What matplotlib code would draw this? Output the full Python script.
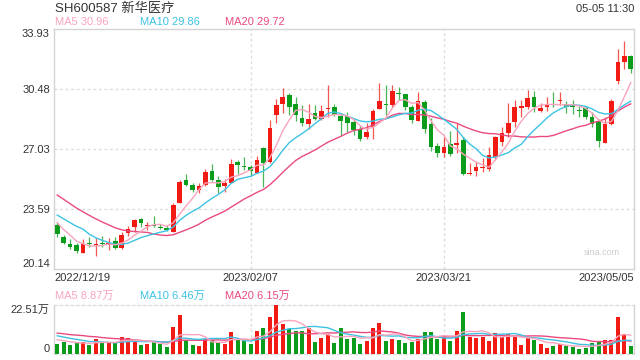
import matplotlib
matplotlib.use("Agg")
import matplotlib.pyplot as plt
import matplotlib.transforms as mtransforms
import numpy as np
import pandas as pd

plt.rcParams['font.family'] = ['Liberation Sans', 'Noto Sans CJK SC']

# daily prices, 2022/12/19 .. 2023/05/05 (90 trading days)
opens = [22.65, 21.96, 21.56, 21.53, 21.07, 21.58, 21.54, 21.58, 21.50, 21.76,
         21.36, 22.22, 22.53, 22.99, 22.63, 22.63, 22.55, 22.49, 22.28, 23.95,
         25.25, 24.95, 24.68, 24.95, 25.79, 25.25, 24.91, 25.10, 26.29, 26.04,
         25.98, 25.67, 27.09, 26.30, 29.01, 29.62, 30.14, 29.62, 28.82, 28.47,
         29.09, 28.78, 29.33, 29.43, 28.93, 28.93, 28.59, 28.17, 27.74, 28.28,
         29.35, 29.57, 29.58, 30.25, 30.20, 29.45, 28.66, 29.74, 28.47, 27.21,
         26.82, 27.32, 27.28, 27.55, 25.62, 25.79, 25.94, 25.90, 26.56, 27.44,
         27.97, 28.59, 29.39, 29.43, 30.01, 29.23, 29.47, 29.60, 29.79, 29.62,
         29.60, 29.25, 29.39, 28.86, 28.66, 27.40, 28.47, 30.92, 32.03, 32.38]
closes = [22.15, 21.61, 21.42, 21.19, 21.57, 21.55, 21.57, 21.55, 21.61, 21.36,
          22.07, 22.42, 22.95, 22.80, 22.66, 22.60, 22.52, 22.38, 23.82, 25.14,
          24.98, 24.68, 24.91, 25.71, 25.25, 24.87, 25.10, 26.17, 26.13, 26.01,
          25.79, 26.40, 26.25, 28.22, 29.55, 30.01, 29.47, 29.01, 28.51, 28.74,
          28.78, 29.20, 29.36, 29.01, 28.63, 28.51, 28.13, 27.59, 28.01, 29.20,
          29.78, 29.54, 30.35, 30.22, 29.47, 28.70, 29.78, 28.20, 27.17, 26.82,
          27.13, 26.75, 27.40, 25.60, 25.66, 25.98, 26.02, 26.67, 27.74, 27.94,
          28.51, 29.43, 29.51, 29.96, 29.47, 29.39, 29.62, 29.57, 29.82, 29.47,
          29.45, 29.22, 28.89, 28.47, 27.51, 28.47, 29.78, 32.03, 32.38, 31.61]
highs = [22.84, 22.09, 21.88, 21.61, 21.86, 21.96, 21.92, 22.03, 21.90, 21.96,
         22.26, 22.61, 23.03, 23.05, 22.86, 23.18, 22.72, 22.67, 23.91, 25.25,
         25.60, 25.10, 25.06, 25.90, 26.17, 25.48, 25.33, 26.44, 26.40, 26.56,
         26.11, 26.63, 27.17, 28.70, 29.89, 30.54, 30.27, 30.01, 29.58, 29.62,
         29.55, 29.55, 30.69, 29.62, 29.09, 29.16, 28.78, 28.36, 28.53, 29.35,
         30.81, 30.69, 30.69, 30.61, 30.22, 29.58, 30.31, 29.85, 28.82, 27.36,
         27.74, 28.05, 28.55, 27.72, 26.21, 26.29, 26.52, 27.13, 27.80, 28.32,
         29.66, 29.85, 29.85, 30.42, 30.35, 29.66, 30.04, 30.31, 30.31, 29.81,
         29.85, 29.58, 29.51, 29.16, 28.78, 28.89, 29.89, 32.76, 33.22, 32.42]
lows = [21.99, 21.56, 21.27, 21.04, 21.05, 21.42, 20.88, 21.42, 21.23, 21.30,
        21.30, 22.03, 22.28, 22.57, 22.38, 22.53, 22.42, 22.34, 22.28, 23.91,
        24.91, 24.56, 24.49, 24.91, 25.21, 24.52, 24.56, 25.06, 25.60, 25.83,
        25.48, 25.64, 24.87, 26.25, 28.55, 29.12, 28.97, 28.63, 28.36, 28.20,
        28.70, 28.70, 28.89, 28.93, 27.86, 28.01, 27.86, 27.51, 27.63, 27.63,
        29.32, 28.97, 29.47, 29.85, 29.28, 28.51, 28.64, 27.94, 26.94, 26.56,
        26.59, 26.63, 26.79, 25.56, 25.52, 25.48, 25.71, 25.79, 26.40, 27.21,
        27.71, 28.28, 28.89, 29.35, 29.16, 29.18, 29.20, 29.43, 29.58, 29.09,
        29.05, 28.86, 28.78, 28.32, 27.13, 27.36, 28.40, 30.77, 31.61, 31.38]
# volume, 万手
volumes = [4.72, 5.48, 4.26, 5.32, 5.48, 3.95, 7.00, 4.87, 5.48, 5.32,
           7.91, 7.45, 5.78, 4.26, 4.72, 5.32, 4.72, 3.35, 12.47, 17.95,
           6.24, 4.26, 3.80, 7.00, 6.39, 5.32, 4.41, 10.19, 7.00, 6.54,
           4.72, 10.65, 12.02, 17.04, 22.51, 13.84, 11.71, 10.65, 10.65, 12.02,
           5.63, 7.45, 8.97, 5.17, 12.02, 7.00, 7.45, 4.72, 6.08, 12.02,
           14.30, 6.08, 7.00, 6.54, 5.17, 5.63, 7.00, 10.19, 10.19, 7.00,
           7.91, 6.08, 10.65, 19.32, 7.91, 7.45, 7.91, 6.08, 9.73, 7.91,
           9.28, 7.91, 4.26, 7.91, 6.54, 4.72, 2.89, 3.80, 4.72, 3.80,
           3.35, 2.43, 2.89, 5.17, 5.63, 6.54, 6.54, 17.04, 9.28, 3.80]

# 19 days before the window, only used to warm up the moving averages
pre_closes = [26.6, 26.4, 26.2, 25.9, 25.7, 25.5, 25.2, 24.9, 24.7, 24.3,
              23.8, 23.6, 23.3, 23.2, 24.5, 23.6, 23.0, 22.9, 22.35]
pre_volumes = [11.0, 12.5, 10.0, 9.5, 11.8, 10.2, 12.0, 10.6, 9.8, 10.5,
               11.5, 10.2, 9.8, 10.5, 9.0, 7.5, 6.8, 7.2, 6.48]

date_idx = [0, 30, 60, 89]
date_labels = ['2022/12/19', '2023/02/07', '2023/03/21', '2023/05/05']
price_ticks = [20.14, 23.59, 27.03, 30.48, 33.93]

RED = '#f21b14'
GREEN = '#0c9c1c'
C_MA5 = '#f9a4bd'
C_MA10 = '#3cc3e3'
C_MA20 = '#ea4a80'
BORDER = '#d4d4d4'
GRID = '#dddddd'
TXT = '#333333'

n = len(closes)
x = np.arange(n)
o = np.array(opens); c = np.array(closes)
h = np.array(highs); l = np.array(lows)
up = c >= o
cols = [RED if u else GREEN for u in up]


def ma(pre, vals, k):
    s = pd.Series(pre + vals).rolling(k).mean().to_numpy()
    return s[len(pre):]


W, H = 640, 360
fig = plt.figure(figsize=(6.4, 3.6), dpi=100)
fig.patch.set_facecolor('white')

ax = fig.add_axes([54 / W, 1 - 269 / H, 580 / W, 240 / H])
axv = fig.add_axes([54 / W, 1 - 354 / H, 580 / W, 49 / H])

# candles
ax.vlines(x, l, h, colors=cols, linewidth=0.9, alpha=0.75, zorder=2)
body_lo = np.minimum(o, c)
body_h = np.maximum(np.abs(c - o), 0.06)
ax.bar(x, body_h, bottom=body_lo, width=0.72, color=cols, linewidth=0, zorder=3)

ax.plot(x, ma(pre_closes, closes, 20), color=C_MA20, lw=1.0, zorder=4)
ax.plot(x, ma(pre_closes, closes, 10), color=C_MA10, lw=1.0, zorder=4)
ax.plot(x, ma(pre_closes, closes, 5), color=C_MA5, lw=1.0, zorder=4)

ax.set_xlim(-0.5, n - 0.5)
ax.set_ylim(price_ticks[0], price_ticks[-1])
ax.set_yticks(price_ticks)
ax.set_yticklabels(['%.2f' % t for t in price_ticks])
ax.tick_params(axis='y', length=0, pad=3, labelsize=8, labelcolor=TXT)
labs = ax.get_yticklabels()
labs[0].set_va('bottom')
labs[-1].set_va('top')
ax.set_xticks([])
for t in price_ticks[1:-1]:
    ax.axhline(t, color=GRID, lw=1.0, ls=(0, (2, 2)), zorder=1)
for i in date_idx[1:3]:
    ax.axvline(i, color=GRID, lw=1.0, ls=(0, (2, 2)), zorder=1)
for sp in ax.spines.values():
    sp.set_color(BORDER)
    sp.set_linewidth(1.0)

trans = mtransforms.blended_transform_factory(ax.transData, ax.transAxes)
aligns = ['left', 'center', 'center', 'right']
for i, lab, ha in zip(date_idx, date_labels, aligns):
    xx = i - 0.5 if ha == 'left' else (i + 0.5 if ha == 'right' else i)
    ax.text(xx, -0.015, lab, transform=trans, ha=ha, va='top', fontsize=8, color=TXT)

ax.text(0.975, 0.07, 'sina.com', transform=ax.transAxes, ha='right', va='center',
        fontsize=6.5, color='#cccccc')

# volume panel
axv.bar(x, volumes, width=0.62, color=cols, linewidth=0, zorder=3)
axv.plot(x, ma(pre_volumes, volumes, 20), color=C_MA20, lw=1.0, zorder=4)
axv.plot(x, ma(pre_volumes, volumes, 10), color=C_MA10, lw=1.0, zorder=4)
axv.plot(x, ma(pre_volumes, volumes, 5), color=C_MA5, lw=1.0, zorder=4)
axv.set_xlim(-0.5, n - 0.5)
axv.set_ylim(0, max(volumes))
axv.set_yticks([0, max(volumes)])
axv.set_yticklabels(['0', '%.2f万' % max(volumes)])
axv.tick_params(axis='y', length=0, pad=3, labelsize=8, labelcolor=TXT)
vl = axv.get_yticklabels()
vl[0].set_va('bottom')
vl[1].set_va('top')
axv.set_xticks([])
for i in date_idx[1:3]:
    axv.axvline(i, color=GRID, lw=1.0, ls=(0, (2, 2)), zorder=1)
for name, sp in axv.spines.items():
    sp.set_color(BORDER if name in ('left', 'right') else GRID)
    sp.set_linewidth(1.0)
    if name in ('top', 'bottom'):
        sp.set_linestyle((0, (2, 2)))

# header texts
fig.text(55 / W, 1 - 9 / H, 'SH600587 新华医疗', fontsize=9.5, color=TXT, va='center')
fig.text(634 / W, 1 - 9 / H, '05-05 11:30', fontsize=8, color=TXT, va='center', ha='right')
fig.text(55 / W, 1 - 22 / H, 'MA5 30.96', fontsize=8, color=C_MA5, va='center')
fig.text(140 / W, 1 - 22 / H, 'MA10 29.86', fontsize=8, color=C_MA10, va='center')
fig.text(225 / W, 1 - 22 / H, 'MA20 29.72', fontsize=8, color=C_MA20, va='center')
fig.text(55 / W, 1 - 296 / H, 'MA5 8.87万', fontsize=8, color=C_MA5, va='center')
fig.text(140 / W, 1 - 296 / H, 'MA10 6.46万', fontsize=8, color=C_MA10, va='center')
fig.text(225 / W, 1 - 296 / H, 'MA20 6.15万', fontsize=8, color=C_MA20, va='center')

fig.savefig('out.png', dpi=100)
